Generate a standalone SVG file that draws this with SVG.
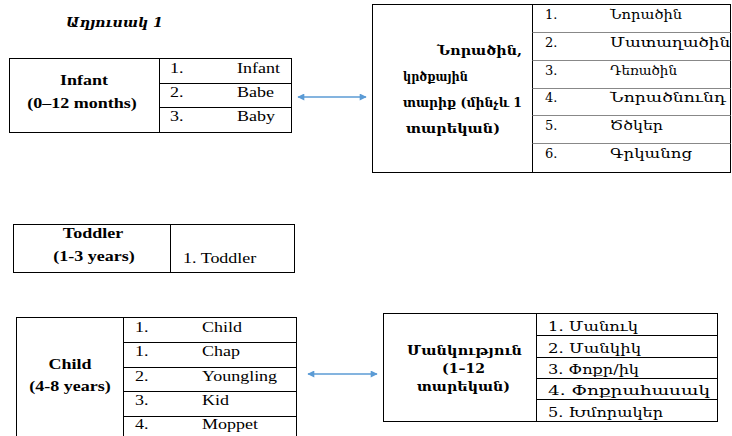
<svg xmlns="http://www.w3.org/2000/svg" width="732" height="436" viewBox="0 0 732 436">
<style>
text{font-family:"Liberation Serif","Times New Roman",serif;font-size:15px;fill:#000}
.b{font-weight:bold}
.arm{font-family:"DejaVu Serif","DejaVu Sans",serif;font-size:13px}
.arm2{font-family:"DejaVu Serif","DejaVu Sans",serif;font-size:13.5px}
.armb{font-family:"DejaVu Serif","DejaVu Sans",serif;font-size:13px;font-weight:bold}
.box{fill:#fff;stroke:#000;stroke-width:1}
.ln{stroke:#000;stroke-width:1}
.lg{stroke:#888;stroke-width:1}
.c{text-anchor:middle}
.arr{stroke:#5B9BD5;stroke-width:1.3;fill:none}
</style>
<defs>
<marker id="ah" viewBox="0 0 10 10" refX="9" refY="5" markerWidth="10" markerHeight="7" markerUnits="userSpaceOnUse" orient="auto-start-reverse">
<path d="M0,0 L10,5 L0,10 z" fill="#5B9BD5"/>
</marker>
</defs>
<rect width="732" height="436" fill="#fff"/>
<text x="66" y="27" class="armb" style="font-style:italic;font-size:13.5px" textLength="97" lengthAdjust="spacingAndGlyphs">Աղյուսակ 1</text>

<g id="infant">
<rect class="box" x="9.5" y="58.5" width="282" height="74"/>
<line class="ln" x1="159.5" y1="58.5" x2="159.5" y2="132.5"/>
<line class="ln" x1="159.5" y1="83.5" x2="291.5" y2="83.5"/>
<line class="ln" x1="159.5" y1="107.5" x2="291.5" y2="107.5"/>
<text transform="translate(84 85) scale(1.2 1)" class="b c">Infant</text>
<text transform="translate(82 108) scale(1.2 1)" class="b c">(0–12 months)</text>
<text transform="translate(170 73) scale(1.2 1)">1.</text><text transform="translate(237 73) scale(1.2 1)">Infant</text>
<text transform="translate(170 97) scale(1.2 1)">2.</text><text transform="translate(237 97) scale(1.2 1)">Babe</text>
<text transform="translate(170 121) scale(1.2 1)">3.</text><text transform="translate(237 121) scale(1.2 1)">Baby</text>
</g>

<g id="newborn">
<rect class="box" x="372.5" y="4.5" width="358" height="168"/>
<line class="ln" x1="532.5" y1="4.5" x2="532.5" y2="172.5"/>
<line class="lg" x1="532.5" y1="32.5" x2="730.5" y2="32.5"/>
<line class="lg" x1="532.5" y1="60.5" x2="730.5" y2="60.5"/>
<line class="lg" x1="532.5" y1="88.5" x2="730.5" y2="88.5"/>
<line class="lg" x1="532.5" y1="115.5" x2="730.5" y2="115.5"/>
<line class="lg" x1="532.5" y1="143.5" x2="730.5" y2="143.5"/>
<text x="437" y="55" class="armb" textLength="85" lengthAdjust="spacingAndGlyphs">Նորածին,</text>
<text x="403" y="81" class="armb" textLength="65" lengthAdjust="spacingAndGlyphs">կրծքային</text>
<text x="403" y="107" class="armb" textLength="119" lengthAdjust="spacingAndGlyphs">տարիք (մինչև 1</text>
<text x="406" y="133" class="armb" textLength="94" lengthAdjust="spacingAndGlyphs">տարեկան)</text>
<text x="545" y="19" class="arm">1.</text><text x="610" y="19" class="arm" textLength="72" lengthAdjust="spacingAndGlyphs">Նորածին</text>
<text x="545" y="47" class="arm">2.</text><text x="610" y="47" class="arm" textLength="120" lengthAdjust="spacingAndGlyphs">Մատաղածին</text>
<text x="545" y="75" class="arm">3.</text><text x="610" y="75" class="arm" textLength="67" lengthAdjust="spacingAndGlyphs">Դեռածին</text>
<text x="545" y="102" class="arm">4.</text><text x="610" y="102" class="arm" textLength="116" lengthAdjust="spacingAndGlyphs">Նորածնունդ</text>
<text x="545" y="130" class="arm">5.</text><text x="610" y="130" class="arm" textLength="53" lengthAdjust="spacingAndGlyphs">Ծծկեր</text>
<text x="545" y="158" class="arm">6.</text><text x="610" y="158" class="arm" textLength="82" lengthAdjust="spacingAndGlyphs">Գրկանոց</text>
</g>

<g id="toddler">
<rect class="box" x="13.5" y="224.5" width="281" height="48"/>
<line class="ln" x1="170.5" y1="224.5" x2="170.5" y2="272.5"/>
<text transform="translate(93 238) scale(1.2 1)" class="b c">Toddler</text>
<text transform="translate(94 261) scale(1.2 1)" class="b c">(1-3 years)</text>
<text transform="translate(183 263) scale(1.2 1)">1. Toddler</text>
</g>

<g id="child">
<rect class="box" x="16.5" y="317.5" width="280" height="130"/>
<line class="ln" x1="123.5" y1="317.5" x2="123.5" y2="447"/>
<line class="ln" x1="123.5" y1="342.5" x2="296.5" y2="342.5"/>
<line class="ln" x1="123.5" y1="367.5" x2="296.5" y2="367.5"/>
<line class="ln" x1="123.5" y1="391.5" x2="296.5" y2="391.5"/>
<line class="ln" x1="123.5" y1="416.5" x2="296.5" y2="416.5"/>
<text transform="translate(70 369) scale(1.2 1)" class="b c">Child</text>
<text transform="translate(70 391) scale(1.2 1)" class="b c">(4-8 years)</text>
<text transform="translate(135 332) scale(1.2 1)">1.</text><text transform="translate(202 332) scale(1.2 1)">Child</text>
<text transform="translate(135 356) scale(1.2 1)">1.</text><text transform="translate(202 356) scale(1.2 1)">Chap</text>
<text transform="translate(135 381) scale(1.2 1)">2.</text><text transform="translate(202 381) scale(1.2 1)">Youngling</text>
<text transform="translate(135 405) scale(1.2 1)">3.</text><text transform="translate(202 405) scale(1.2 1)">Kid</text>
<text transform="translate(135 429) scale(1.2 1)">4.</text><text transform="translate(202 429) scale(1.2 1)">Moppet</text>
</g>

<g id="childhood">
<rect class="box" x="383.5" y="313.5" width="334" height="108"/>
<line class="ln" x1="536.5" y1="313.5" x2="536.5" y2="421.5"/>
<line class="ln" x1="536.5" y1="335.5" x2="717.5" y2="335.5"/>
<line class="ln" x1="536.5" y1="357.5" x2="717.5" y2="357.5"/>
<line class="ln" x1="536.5" y1="378.5" x2="717.5" y2="378.5"/>
<line class="ln" x1="536.5" y1="399.5" x2="717.5" y2="399.5"/>
<text x="407" y="355" class="armb" textLength="115" lengthAdjust="spacingAndGlyphs">Մանկություն</text>
<text x="442" y="373" class="armb" textLength="43" lengthAdjust="spacingAndGlyphs">(1–12</text>
<text x="417" y="391" class="armb" textLength="93" lengthAdjust="spacingAndGlyphs">տարեկան)</text>
<text x="548" y="331" class="arm2" textLength="90" lengthAdjust="spacingAndGlyphs">1. Մանուկ</text>
<text x="548" y="353" class="arm2" textLength="93" lengthAdjust="spacingAndGlyphs">2. Մանկիկ</text>
<text x="548" y="374" class="arm2" textLength="91" lengthAdjust="spacingAndGlyphs">3. Փոքր/իկ</text>
<text x="548" y="395" class="arm2" textLength="162" lengthAdjust="spacingAndGlyphs">4. Փոքրահասակ</text>
<text x="548" y="417" class="arm2" textLength="115" lengthAdjust="spacingAndGlyphs">5. Խմորակեր</text>
</g>

<g id="connectors">
<line class="arr" x1="298" y1="97" x2="366" y2="97" marker-start="url(#ah)" marker-end="url(#ah)"/>
<line class="arr" x1="308" y1="374" x2="377" y2="374" marker-start="url(#ah)" marker-end="url(#ah)"/>
</g>
</svg>
